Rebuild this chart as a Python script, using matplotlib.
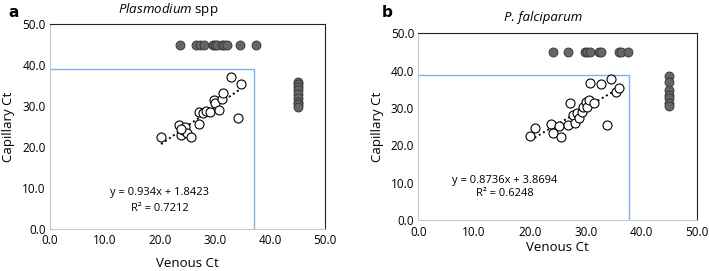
import matplotlib.pyplot as plt
import numpy as np

plt.rcParams['font.family'] = ['Open Sans', 'DejaVu Sans']
plt.rcParams['mathtext.fontset'] = 'custom'
plt.rcParams['mathtext.it'] = 'Open Sans:italic'
plt.rcParams['mathtext.rm'] = 'Open Sans'

# Panel a: Plasmodium spp
a_open_x = [20.2, 23.5, 23.9, 24.1, 24.5, 25.0, 25.6, 23.8, 27.1, 27.1, 27.9, 28.3,
            29.1, 29.8, 30.0, 30.8, 31.2, 31.5, 33.0, 34.2, 34.7]
a_open_y = [22.5, 25.5, 22.9, 24.1, 24.8, 23.5, 22.5, 24.4, 25.6, 28.5, 28.2, 28.7,
            28.6, 31.5, 30.7, 29.0, 31.7, 33.3, 37.2, 27.2, 35.4]
a_top_x = [23.6, 26.6, 27.3, 28.0, 29.6, 30.0, 30.3, 31.2, 31.7, 32.2, 34.5, 37.5]
a_right_y = [36.0, 35.5, 34.8, 34.0, 33.0, 32.0, 31.0, 30.5, 29.8]
a_slope, a_icpt = 0.934, 1.8423
a_eq = "y = 0.934x + 1.8423"
a_r2 = "R² = 0.7212"
a_cut_x, a_cut_y = 37.1, 39.0

# Panel b: P. falciparum
b_open_x = [20.1, 20.9, 23.7, 24.1, 25.2, 25.5, 26.9, 27.2, 27.8, 28.1, 28.4, 28.8,
            29.3, 29.6, 30.0, 30.3, 30.6, 30.8, 31.5, 32.7, 34.6, 33.9, 35.5, 36.0]
b_open_y = [22.5, 24.6, 25.7, 23.2, 25.2, 22.3, 25.4, 31.3, 28.1, 25.9, 28.6, 27.2,
            29.0, 30.4, 31.7, 30.4, 32.1, 36.6, 31.4, 36.3, 37.9, 25.4, 34.2, 35.3]
b_top_x = [24.1, 26.9, 29.9, 30.3, 30.8, 32.3, 32.7, 35.9, 36.3, 37.6]
b_right_y = [38.5, 37.0, 34.8, 33.5, 32.8, 31.3, 30.6]
b_slope, b_icpt = 0.8736, 3.8694
b_eq = "y = 0.8736x + 3.8694"
b_r2 = "R² = 0.6248"
b_cut_x, b_cut_y = 37.8, 38.8

ticks = [0, 10, 20, 30, 40, 50]
tick_labels = ["0.0", "10.0", "20.0", "30.0", "40.0", "50.0"]
neg_value = 45.0

fig = plt.figure(figsize=(7.09, 2.71), dpi=100)
ax_a = fig.add_axes([0.0705, 0.156, 0.3879, 0.754])
ax_b = fig.add_axes([0.590, 0.188, 0.3935, 0.689])


def draw(ax, ox, oy, topx, righty, slope, icpt, eq, r2, cutx, cuty, eq_pos, r2_gap, xpad):
    ax.plot([0, cutx, cutx], [cuty, cuty, 0], color="#7fb2e5", lw=1.0, zorder=1)
    ax.scatter(ox, oy, s=42, facecolor="white", edgecolor="black", lw=0.8, zorder=3)
    ax.scatter(topx, [neg_value] * len(topx), s=42, facecolor="#666666",
               edgecolor="#333333", lw=0.6, zorder=3)
    ax.scatter([neg_value] * len(righty), righty, s=42, facecolor="#666666",
               edgecolor="#333333", lw=0.6, zorder=3)
    xs = np.array([min(ox), max(ox)])
    ax.plot(xs, slope * xs + icpt, color="black", ls=(0, (1, 1.5)), lw=1.4, zorder=2)
    ax.text(eq_pos[0], eq_pos[1], eq, ha="center", va="center", fontsize=8)
    ax.text(eq_pos[0], eq_pos[1] - r2_gap, r2, ha="center", va="center", fontsize=8)
    ax.set_xlim(0, 50)
    ax.set_ylim(0, 50)
    ax.set_xticks(ticks)
    ax.set_xticklabels(tick_labels)
    ax.set_yticks(ticks)
    ax.set_yticklabels(tick_labels)
    ax.tick_params(axis="x", length=0, labelsize=8.5, pad=4)
    ax.tick_params(axis="y", length=0, labelsize=8.5, pad=3)
    for s in ["left", "bottom"]:
        ax.spines[s].set_color("#c8c8c8")
    for s in ["top", "right"]:
        ax.spines[s].set_color("#222222")
    ax.set_xlabel("Venous Ct", fontsize=9.5, labelpad=xpad)
    ax.set_ylabel("Capillary Ct", fontsize=9.5, labelpad=5)


draw(ax_a, a_open_x, a_open_y, a_top_x, a_right_y, a_slope, a_icpt,
     a_eq, a_r2, a_cut_x, a_cut_y, (20.0, 8.8), 3.8, 7)
draw(ax_b, b_open_x, b_open_y, b_top_x, b_right_y, b_slope, b_icpt,
     b_eq, b_r2, b_cut_x, b_cut_y, (15.5, 10.7), 3.6, 2)

fig.text(0.237, 0.965, r"$\it{Plasmodium}$ spp", ha="center", va="center", fontsize=9.5)
fig.text(0.766, 0.935, "P. falciparum", style="italic", ha="center", va="center",
         fontsize=9.5)
fig.text(0.012, 0.955, "a", fontweight="bold", fontsize=11, ha="left", va="center",
         family="DejaVu Sans")
fig.text(0.538, 0.955, "b", fontweight="bold", fontsize=11, ha="left", va="center",
         family="DejaVu Sans")

fig.savefig("out.png", dpi=100)
